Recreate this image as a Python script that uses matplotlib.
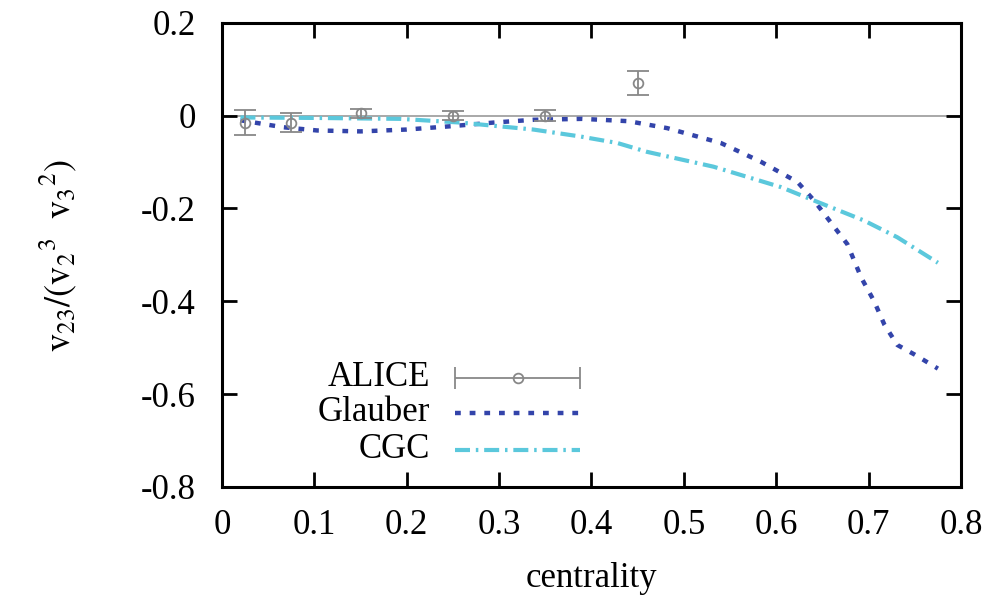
import matplotlib
matplotlib.use("Agg")
import matplotlib.pyplot as plt
import numpy as np

plt.rcParams['font.family'] = ['Liberation Serif', 'DejaVu Serif']
plt.rcParams['mathtext.fontset'] = 'stix'

# ALICE data
alice_x = [0.025, 0.075, 0.15, 0.25, 0.35, 0.45]
alice_y = [-0.015, -0.015, 0.005, 0.0, 0.0, 0.07]
alice_err = [0.027, 0.02, 0.01, 0.01, 0.012, 0.026]

# Glauber curve
glauber_x = [0.02, 0.066, 0.103, 0.15, 0.2, 0.247, 0.294, 0.337, 0.39, 0.44, 0.482,
             0.54, 0.583, 0.623, 0.641, 0.659, 0.677, 0.692, 0.706, 0.717, 0.731, 0.75, 0.775]
glauber_y = [-0.01, -0.025, -0.032, -0.034, -0.03, -0.023, -0.015, -0.009, -0.007, -0.012, -0.027,
             -0.059, -0.099, -0.143, -0.183, -0.23, -0.277, -0.349, -0.40, -0.45, -0.494, -0.515, -0.545]

# CGC curve
cgc_x = [0.02, 0.1, 0.193, 0.258, 0.337, 0.388, 0.428, 0.46, 0.532, 0.605, 0.641, 0.695, 0.731, 0.775]
cgc_y = [-0.004, -0.005, -0.007, -0.015, -0.03, -0.045, -0.059, -0.078, -0.11, -0.154, -0.183, -0.226, -0.262, -0.317]

labels = ['ALICE', 'Glauber', 'CGC']

fig = plt.figure(figsize=(9.94, 5.99), dpi=100)
ax = fig.add_axes([0.2233, 0.187, 0.7435, 0.775])

ax.axhline(0, color='#999999', lw=1.2, zorder=1)

err_style = dict(fmt='o', mfc='none', mec='#888888', ecolor='#888888', ms=7, mew=1.3,
                 elinewidth=1.3, capsize=8, capthick=1.3)
glauber_style = dict(color='#3344aa', lw=3.2, linestyle=(0, (1.3, 2.0)))
cgc_style = dict(color='#5bc8dc', lw=3, linestyle=(0, (3.6, 1.4, 0.6, 1.4)))

ax.errorbar(alice_x, alice_y, yerr=alice_err, zorder=3, **err_style)
ax.plot(glauber_x, glauber_y, zorder=2, **glauber_style)
ax.plot(cgc_x, cgc_y, zorder=2, **cgc_style)

ax.set_xlim(0, 0.8)
ax.set_ylim(-0.8, 0.2)
ax.set_xticks(np.arange(0, 0.81, 0.1))
ax.set_xticklabels(['0', '0.1', '0.2', '0.3', '0.4', '0.5', '0.6', '0.7', '0.8'])
ax.set_yticks([-0.8, -0.6, -0.4, -0.2, 0, 0.2])
ax.set_yticklabels(['-0.8', '-0.6', '-0.4', '-0.2', '0', '0.2'])
ax.tick_params(direction='in', length=11, width=2, labelsize=25, top=True, right=True)
ax.tick_params(axis='x', pad=16)
ax.tick_params(axis='y', pad=19)
for s in ax.spines.values():
    s.set_linewidth(2.2)

ax.set_xlabel('centrality', fontsize=25, labelpad=14)
ax.set_ylabel(r'$\mathrm{v_{23}/(v_2{}^{3}\ \ v_3{}^{2})}$', fontsize=26, labelpad=44)

# legend drawn by hand, gnuplot style (label right-aligned, sample to the right)
rows = [0.235, 0.160, 0.080]
tx, x0, x1 = 0.282, 0.316, 0.484
for lab, yy in zip(labels, rows):
    ax.text(tx, yy, lab, transform=ax.transAxes, ha='right', va='center', fontsize=25)
ax.errorbar([(x0 + x1) / 2], [rows[0]], xerr=[(x1 - x0) / 2], transform=ax.transAxes,
            **err_style)
ax.plot([x0, x1], [rows[1]] * 2, transform=ax.transAxes, **glauber_style)
ax.plot([x0, x1], [rows[2]] * 2, transform=ax.transAxes, **cgc_style)

fig.savefig('out.png', dpi=100)
